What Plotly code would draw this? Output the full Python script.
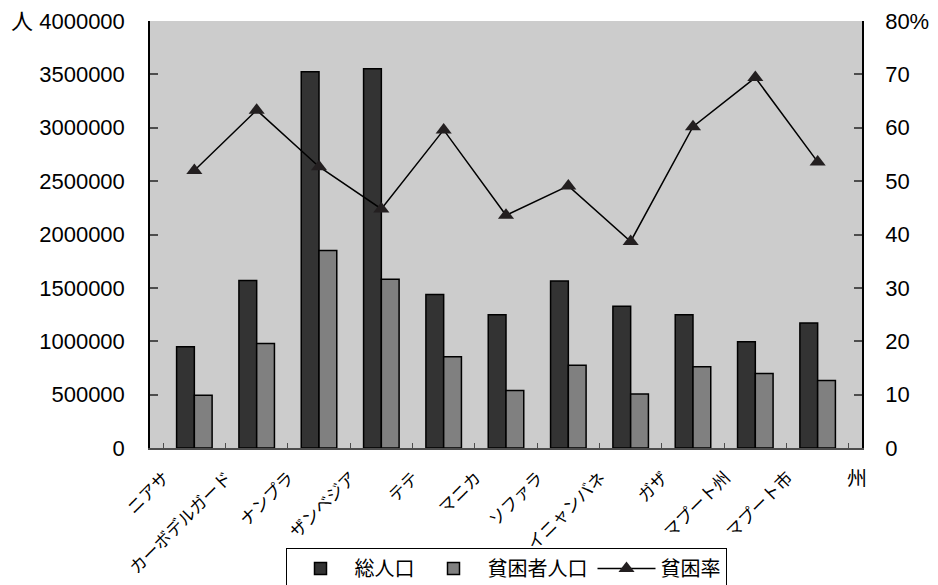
import plotly.graph_objects as go

categories = ["ニアサ", "カーボデルガード", "ナンプラ", "ザンベジア", "テテ", "マニカ",
              "ソファラ", "イニャンバネ", "ガザ", "マプート州", "マプート市"]
total_pop = [948000, 1568000, 3524000, 3552000, 1437000, 1249000,
             1565000, 1327000, 1249000, 995000, 1171000]
poor_pop = [493000, 979000, 1850000, 1580000, 854000, 538000,
            776000, 507000, 761000, 698000, 632000]
poverty_rate = [52.0, 63.3, 52.7, 44.8, 59.6, 43.6, 49.1, 38.7, 60.2, 69.4, 53.6]

left_tickvals = [0, 500000, 1000000, 1500000, 2000000, 2500000, 3000000, 3500000, 4000000]
left_ticktext = ["0", "500000", "1000000", "1500000", "2000000", "2500000",
                 "3000000", "3500000", "人 4000000"]
right_tickvals = [0, 10, 20, 30, 40, 50, 60, 70, 80]
right_ticktext = ["0", "10", "20", "30", "40", "50", "60", "70", "80%"]

NUM_FONT = "Liberation Sans, Arial, Noto Sans CJK JP, sans-serif"
JP_FONT = "Noto Sans CJK JP, sans-serif"

fig = go.Figure()
fig.add_trace(go.Bar(
    x=categories, y=total_pop, name="総人口",
    marker=dict(color="#333333", line=dict(color="#000000", width=1.5)),
))
fig.add_trace(go.Bar(
    x=categories, y=poor_pop, name="貧困者人口",
    marker=dict(color="#808080", line=dict(color="#000000", width=1.5)),
))
fig.add_trace(go.Scatter(
    x=categories, y=poverty_rate, name="貧困率", yaxis="y2",
    mode="lines+markers",
    line=dict(color="#000000", width=1.5),
    marker=dict(symbol="triangle-up", size=14, color="#231f20"),
))

# The page body has an 8px margin, so the figure is drawn 8px in from the
# window's top-left corner; size the figure to fill the rest of the window.
OFF = 8
W, H = 938 - OFF, 585 - OFF
L = 150 - OFF
T = 21 - OFF
R = W - (862 - OFF)
B = H - (448 - OFF)
plot_w = W - L - R
plot_h = H - T - B


def px_x(sx):
    return (sx - OFF - L) / plot_w


def px_y(sy):
    return (H - B - (sy - OFF)) / plot_h


fig.update_layout(
    width=W, height=H,
    margin=dict(l=L, r=R, t=T, b=B, autoexpand=False),
    paper_bgcolor="#ffffff",
    plot_bgcolor="#cccccc",
    barmode="group",
    bargap=0.43,
    bargroupgap=0,
    showlegend=True,
    legend=dict(
        orientation="h", x=px_x(506), xanchor="center", y=px_y(548), yanchor="top",
        bordercolor="#000000", borderwidth=1, bgcolor="#ffffff",
        font=dict(family=JP_FONT, size=20, color="#000000"),
        itemwidth=58, tracegroupgap=0,
    ),
    xaxis=dict(
        type="category",
        automargin=False,
        tickangle=-45,
        tickfont=dict(family=JP_FONT, size=17, color="#000000"),
        showgrid=False,
        showline=True, linecolor="#4d4d4d", linewidth=2,
        ticks="inside", ticklen=5, tickcolor="#4d4d4d", tickwidth=1,
        tickson="boundaries",
        ticklabelshift=-30, ticklabelstandoff=11,
    ),
    yaxis=dict(
        range=[0, 4000000],
        automargin=False,
        tickvals=left_tickvals, ticktext=left_ticktext,
        tickfont=dict(family=NUM_FONT, size=22, color="#000000"),
        showgrid=False, zeroline=False,
        showline=True, linecolor="#000000", linewidth=1.5,
        ticks="inside", ticklen=8, tickcolor="#4d4d4d", tickwidth=1.5,
        ticklabelstandoff=19,
    ),
    yaxis2=dict(
        range=[0, 80], overlaying="y", side="right",
        automargin=False,
        tickvals=right_tickvals, ticktext=right_ticktext,
        tickfont=dict(family=NUM_FONT, size=22, color="#000000"),
        showgrid=False, zeroline=False,
        showline=True, linecolor="#000000", linewidth=1.5,
        ticks="inside", ticklen=8, tickcolor="#4d4d4d", tickwidth=1.5,
        ticklabelstandoff=17,
    ),
    annotations=[
        dict(text="州", x=px_x(857), y=px_y(477),
             xref="paper", yref="paper", xanchor="center", yanchor="middle",
             showarrow=False, font=dict(family=JP_FONT, size=20, color="#000000")),
    ],
)

fig.write_html("out.html")
